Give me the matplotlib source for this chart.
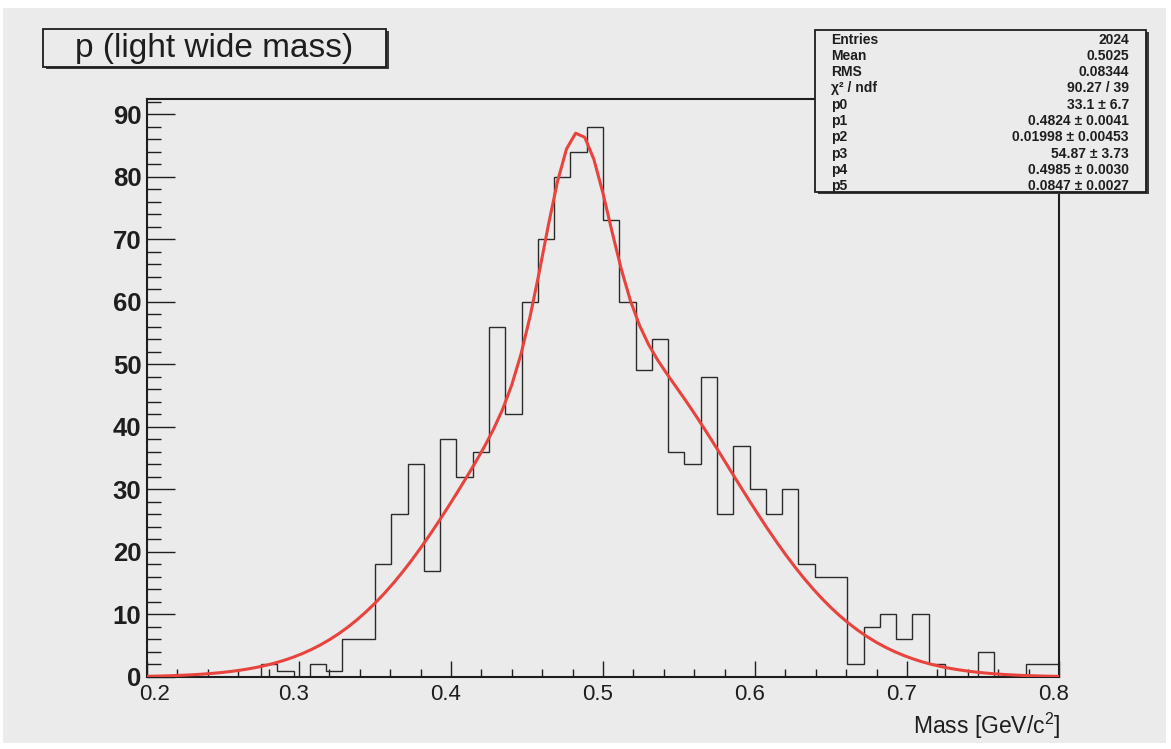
import numpy as np
import matplotlib
matplotlib.use("Agg")
import matplotlib.pyplot as plt
import matplotlib.transforms as mtransforms
from matplotlib.patches import Rectangle
from matplotlib.ticker import MultipleLocator

plt.rcParams['font.family'] = ['Liberation Sans', 'DejaVu Sans']
plt.rcParams['mathtext.fontset'] = 'custom'
plt.rcParams['mathtext.rm'] = 'Liberation Sans'
plt.rcParams['mathtext.it'] = 'Liberation Sans:italic'

# ---- histogram: 56 bins between 0.2 and 0.8 GeV/c^2 ----
x_low, x_high, n_bins = 0.2, 0.8, 56
counts = [0, 0, 0, 0, 0, 0, 0, 2, 1, 0, 2, 1, 6, 6, 18, 26, 34, 17, 38, 32,
          36, 56, 42, 60, 70, 80, 84, 88, 73, 60, 49, 54, 36, 34, 48, 26, 37, 30,
          26, 30, 18, 16, 16, 2, 8, 10, 6, 10, 2, 0, 0, 4, 0, 0, 2, 2]

# ---- fit result: double gaussian ----
fit_params = [33.1, 0.4824, 0.01998, 54.87, 0.4985, 0.0847]
fit_values = ["33.1", "0.4824", "0.01998", "54.87", "0.4985", "0.0847"]
fit_errors = ["6.7", "0.0041", "0.00453", "3.73", "0.0030", "0.0027"]

stat_names = ["Entries", "Mean", "RMS", "χ² / ndf"]
stat_values = ["2024", "0.5025", "0.08344", "90.27 / 39"]

title_text = "p (light wide mass)"
x_label = r"Mass [GeV/c$^{2}$]"
x_ticks = [0.2, 0.3, 0.4, 0.5, 0.6, 0.7, 0.8]
y_ticks = [0, 10, 20, 30, 40, 50, 60, 70, 80, 90]

W, H = 1171, 749
BG = '#ebebeb'
INK = '#1e1e1e'


def fx(px):
    return px / W


def fy(py):
    return 1 - py / H


def double_gauss(x, p):
    return (p[0] * np.exp(-0.5 * ((x - p[1]) / p[2]) ** 2)
            + p[3] * np.exp(-0.5 * ((x - p[4]) / p[5]) ** 2))


fig = plt.figure(figsize=(W / 100, H / 100), dpi=100, facecolor='white')
# canvas pad
fig.add_artist(Rectangle((fx(3), fy(743)), fx(1166) - fx(3), fy(8) - fy(743),
                         transform=fig.transFigure, facecolor=BG,
                         edgecolor='none', zorder=-5))

ax = fig.add_axes([fx(147), fy(677), fx(1059) - fx(147), fy(99) - fy(677)])
ax.set_facecolor(BG)

edges = np.linspace(x_low, x_high, n_bins + 1)
ax.stairs(counts, edges, color='#2b2b2b', lw=1.0, baseline=0, zorder=2)

xf = np.linspace(x_low, x_high, 101)
ax.plot(xf, double_gauss(xf, fit_params), color='#e8433d', lw=2.2, zorder=3)

ax.set_xlim(x_low, x_high)
ax.set_ylim(0, 1.05 * max(counts))

ax.set_xticks(x_ticks)
ax.set_xticklabels([f"{v:g}" for v in x_ticks])
ax.set_yticks(y_ticks)
ax.set_yticklabels([str(v) for v in y_ticks], fontweight='bold')
ax.xaxis.set_minor_locator(MultipleLocator(0.02))
ax.yaxis.set_minor_locator(MultipleLocator(2))

ax.tick_params(axis='x', which='major', direction='in', length=11.5, width=1.0,
               labelsize=16, pad=5, colors=INK)
ax.tick_params(axis='x', which='minor', direction='in', length=5.8, width=1.0,
               colors=INK)
ax.tick_params(axis='y', which='major', direction='in', length=20, width=1.0,
               labelsize=18.5, pad=4, colors=INK)
ax.tick_params(axis='y', which='minor', direction='in', length=10, width=1.0,
               colors=INK)
for s in ax.spines.values():
    s.set_color(INK)
    s.set_linewidth(1.5)

# x labels sit a little left of their ticks, the first one a little right
shift_left = mtransforms.ScaledTranslation(-5 / 100, 0, fig.dpi_scale_trans)
shift_right = mtransforms.ScaledTranslation(8 / 100, 0, fig.dpi_scale_trans)
for i, lab in enumerate(ax.get_xticklabels()):
    lab.set_transform(lab.get_transform() + (shift_right if i == 0 else shift_left))

fig.text(fx(1060), fy(726), x_label, ha='right', va='center', fontsize=16.5,
         color=INK)


def framed_box(x0, y0, x1, y1, z):
    # shadow then box, in pixel coordinates
    fig.add_artist(Rectangle((fx(x0 + 3), fy(y1 + 2)), fx(x1) - fx(x0),
                             fy(y0) - fy(y1), transform=fig.transFigure,
                             facecolor='#3a3a3a', edgecolor='none', zorder=z))
    fig.add_artist(Rectangle((fx(x0), fy(y1)), fx(x1) - fx(x0),
                             fy(y0) - fy(y1), transform=fig.transFigure,
                             facecolor=BG, edgecolor=INK, lw=1.3, zorder=z + 0.1))


# title box
framed_box(43, 29, 386, 67, 10)
fig.text(fx(214.5), fy(49), title_text, ha='center', va='center', fontsize=24,
         color=INK, zorder=11)

# statistics box
framed_box(815, 30, 1146, 192, 10)
names = stat_names + [f"p{i}" for i in range(len(fit_params))]
values = stat_values + [f"{v} ± {e}" for v, e in zip(fit_values, fit_errors)]
for i, (n, v) in enumerate(zip(names, values)):
    yy = 39.5 + 16.3 * i
    fig.text(fx(831), fy(yy), n, ha='left', va='center', fontsize=10,
             fontweight='bold', color=INK, zorder=11)
    fig.text(fx(1129), fy(yy), v, ha='right', va='center', fontsize=10,
             fontweight='bold', color=INK, zorder=11)

fig.savefig('out.png', dpi=100, facecolor='white')
